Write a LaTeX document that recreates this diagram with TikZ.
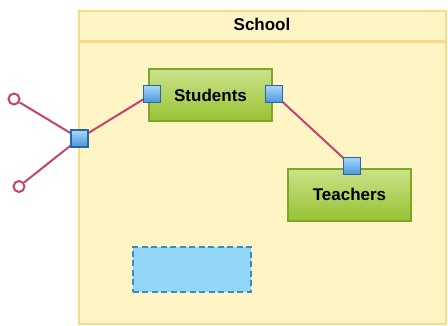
\documentclass[tikz,border=0pt]{standalone}
\usepackage{fontspec}
\setmainfont{Liberation Sans}
\definecolor{frameFill}{HTML}{FFF4C3}
\definecolor{frameLine}{HTML}{F7DC86}
\definecolor{greenTop}{HTML}{CBE38A}
\definecolor{greenBot}{HTML}{98C233}
\definecolor{greenLine}{HTML}{7EA62A}
\definecolor{portTop}{HTML}{A8D8F8}
\definecolor{portBot}{HTML}{4A95DC}
\definecolor{portLine}{HTML}{2767A6}
\definecolor{edgeCol}{HTML}{C4446F}
\definecolor{dashFill}{HTML}{92D7F7}
\definecolor{dashLine}{HTML}{3B8ACD}
\tikzset{
  classbox/.style={draw=greenLine, line width=2pt, top color=greenTop, bottom color=greenBot, minimum width=123pt, minimum height=52pt, inner sep=0pt, font=\fontsize{17}{20}\selectfont\bfseries},
  portbox/.style={draw=portLine, line width=1.8pt, top color=portTop, bottom color=portBot, minimum size=17pt, inner sep=0pt},
  conn/.style={draw=edgeCol, line width=2pt},
  endcirc/.style={circle, draw=edgeCol, line width=2pt, fill=white, minimum size=11pt, inner sep=0pt},
}
\begin{document}
\begin{tikzpicture}[x=1pt,y=-1pt]
\useasboundingbox (0,0) rectangle (448,325);
% frame
\node[draw=frameLine, line width=2.2pt, fill=frameFill, minimum width=367pt, minimum height=313pt, inner sep=0pt, anchor=north west] (school) at (78,10) {};
\coordinate (hdrL) at (78,41.5);
\coordinate (hdrR) at (445,41.5);
\draw[frameLine, line width=2.2pt] (hdrL) -- (hdrR);
\node[font=\fontsize{17}{20}\selectfont\bfseries] (schoolLbl) at (262,24) {School};
% classes
\node[classbox] (students) at (210.5,95) {Students};
\node[classbox] (teachers) at (349.5,194.5) {Teachers};
\node[draw=dashLine, dash pattern=on 6pt off 3.5pt, line width=2pt, fill=dashFill, minimum width=118pt, minimum height=45pt, inner sep=0pt] (empty) at (191.5,269) {};
% ports positions
\coordinate (pSL) at (152,94);
\coordinate (pSR) at (274,94);
\coordinate (pT) at (352,166);
\coordinate (pF) at (79.5,138.5);
\node[endcirc] (c1) at (14,99) {};
\node[endcirc] (c2) at (19,186.5) {};
% connectors
\draw[conn] (c1) -- (pF);
\draw[conn] (c2) -- (pF);
\draw[conn] (pF) -- (pSL);
\draw[conn] (pSR) -- (pT);
% ports
\node[portbox] (portSL) at (pSL) {};
\node[portbox] (portSR) at (pSR) {};
\node[portbox] (portT) at (pT) {};
\node[portbox] (portF) at (pF) {};
\end{tikzpicture}
\end{document}
